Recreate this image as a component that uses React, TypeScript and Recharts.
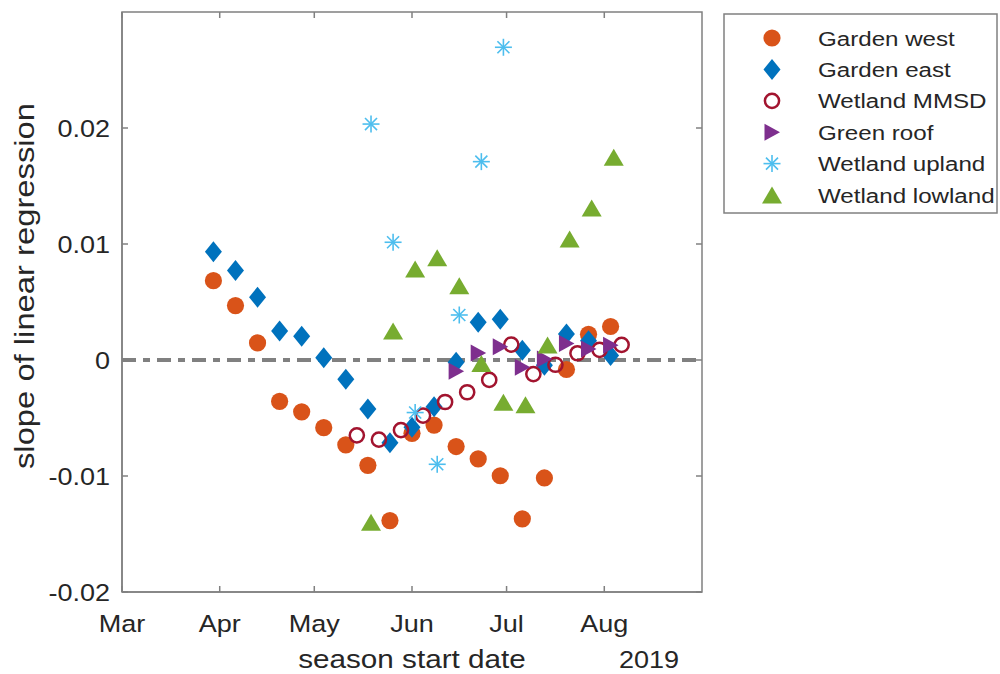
import { ScatterChart, Scatter, XAxis, YAxis, ReferenceLine, ReferenceArea, Label } from "recharts"

// x values are days since 1 Mar 2019
const monthTicks = [0, 31, 61, 92, 122, 153]
const monthLabels = ["Mar", "Apr", "May", "Jun", "Jul", "Aug"]
const slopeTicks = [-0.02, -0.01, 0, 0.01, 0.02]
const slopeLabels = ["-0.02", "-0.01", "0", "0.01", "0.02"]

const gardenDays = [29, 36, 43, 50, 57, 64, 71, 78, 85, 92, 99, 106, 113, 120, 127, 134, 141, 148, 155]
const gardenWest = [
  0.00684, 0.00469, 0.00147, -0.00356, -0.00447, -0.00583, -0.00731, -0.00908, -0.01384, -0.00632,
  -0.00561, -0.00746, -0.00853, -0.00998, -0.01369, -0.01017, -0.00082, 0.00222, 0.00289,
]
const gardenEast = [
  0.00934, 0.00771, 0.00541, 0.0025, 0.00204, 0.00019, -0.00166, -0.00422, -0.00714, -0.0058,
  -0.00403, -0.0002, 0.00325, 0.00351, 0.00084, -0.00046, 0.00224, 0.00167, 0.00038,
]

const mmsdDays = [74.5, 81.5, 88.5, 95.5, 102.5, 109.5, 116.5, 123.5, 130.5, 137.5, 144.5, 151.5, 158.5]
const wetlandMmsd = [
  -0.00649, -0.00686, -0.00604, -0.00479, -0.00362, -0.00278, -0.00172, 0.00133, -0.00121, -0.00041,
  0.00058, 0.00088, 0.00131,
]

const roofDays = [106, 113, 120, 127, 134, 141, 148, 155]
const greenRoof = [-0.00097, 0.0006, 0.00114, -0.00063, 0.00009, 0.00142, 0.00095, 0.00127]

const uplandDays = [79, 86, 93, 100, 107, 114, 121]
const wetlandUpland = [0.02034, 0.01015, -0.00453, -0.00899, 0.00388, 0.0171, 0.02696]

const lowlandDays = [79, 86, 93, 100, 107, 114, 121, 128, 135, 142, 149, 156]
const wetlandLowland = [
  -0.01399, 0.0025, 0.00784, 0.00881, 0.00641, -0.0003, -0.00365, -0.00386, 0.00129, 0.01043, 0.0131,
  0.01747,
]

type Kind = "circle" | "diamond" | "ring" | "right" | "star" | "up"

const series: { name: string; days: number[]; values: number[]; kind: Kind; color: string }[] = [
  { name: "Garden west", days: gardenDays, values: gardenWest, kind: "circle", color: "#D95319" },
  { name: "Garden east", days: gardenDays, values: gardenEast, kind: "diamond", color: "#0072BD" },
  { name: "Wetland MMSD", days: mmsdDays, values: wetlandMmsd, kind: "ring", color: "#A2142F" },
  { name: "Green roof", days: roofDays, values: greenRoof, kind: "right", color: "#7E2F8E" },
  { name: "Wetland upland", days: uplandDays, values: wetlandUpland, kind: "star", color: "#4DBEEE" },
  { name: "Wetland lowland", days: lowlandDays, values: wetlandLowland, kind: "up", color: "#77AC30" },
]

const FONT = '"Liberation Sans", Arial, Helvetica, sans-serif'
const INK = "#262626"
const BOX = "#808080"
const WIDE = 1.15
// plot frame inside the 1000x674 svg
const PLOT = { left: 122, top: 12, right: 702, bottom: 592 }

function Marker({ kind, cx, cy, color }: { kind: Kind; cx: number; cy: number; color: string }) {
  switch (kind) {
    case "circle":
      return <circle cx={cx} cy={cy} r={8.6} fill={color} />
    case "diamond":
      return (
        <polygon
          points={`${cx},${cy - 10.5} ${cx + 8.5},${cy} ${cx},${cy + 10.5} ${cx - 8.5},${cy}`}
          fill={color}
        />
      )
    case "ring":
      return <circle cx={cx} cy={cy} r={7.1} fill="none" stroke={color} strokeWidth={2.5} />
    case "right":
      return <polygon points={`${cx - 7.5},${cy - 8.5} ${cx + 8},${cy} ${cx - 7.5},${cy + 8.5}`} fill={color} />
    case "star": {
      const a = 8.5
      const d = a * 0.707
      return (
        <g stroke={color} strokeWidth={1.6}>
          <line x1={cx - a} y1={cy} x2={cx + a} y2={cy} />
          <line x1={cx} y1={cy - a} x2={cx} y2={cy + a} />
          <line x1={cx - d} y1={cy - d} x2={cx + d} y2={cy + d} />
          <line x1={cx - d} y1={cy + d} x2={cx + d} y2={cy - d} />
        </g>
      )
    }
    default:
      return <polygon points={`${cx},${cy - 8.5} ${cx + 10},${cy + 8.5} ${cx - 10},${cy + 8.5}`} fill={color} />
  }
}

// text stretched along its reading direction
function WideText({
  x,
  y,
  size,
  anchor = "start",
  rotate = false,
  children,
}: {
  x: number
  y: number
  size: number
  anchor?: "start" | "middle" | "end"
  rotate?: boolean
  children: string
}) {
  const t = `translate(${x},${y})${rotate ? " rotate(-90)" : ""} scale(${WIDE},1)`
  return (
    <text transform={t} x={0} y={0} textAnchor={anchor} fontFamily={FONT} fontSize={size} fill={INK}>
      {children}
    </text>
  )
}

function MonthTick({ x, y, payload }: any) {
  const label = monthLabels[monthTicks.indexOf(payload.value)]
  return (
    <g>
      <line x1={x} x2={x} y1={y} y2={y - 6} stroke={BOX} strokeWidth={1.5} />
      <line x1={x} x2={x} y1={PLOT.top} y2={PLOT.top + 6} stroke={BOX} strokeWidth={1.5} />
      <WideText x={x} y={y + 40} size={23.5} anchor="middle">
        {label}
      </WideText>
    </g>
  )
}

function SlopeTick({ x, y, payload }: any) {
  const label = slopeLabels[slopeTicks.indexOf(payload.value)]
  return (
    <g>
      <line x1={x} x2={x + 6} y1={y} y2={y} stroke={BOX} strokeWidth={1.5} />
      <line x1={PLOT.right} x2={PLOT.right - 6} y1={y} y2={y} stroke={BOX} strokeWidth={1.5} />
      <WideText x={x - 12} y={y + 8.5} size={23.5} anchor="end">
        {label}
      </WideText>
    </g>
  )
}

function DateCaption({ viewBox }: any) {
  const { x, y, width } = viewBox
  return (
    <g>
      <WideText x={x + width / 2} y={y + 76} size={25.8} anchor="middle">
        season start date
      </WideText>
      <WideText x={x + width - 23} y={y + 76} size={23.5} anchor="end">
        2019
      </WideText>
    </g>
  )
}

function SlopeCaption({ viewBox }: any) {
  const { y, height } = viewBox
  return (
    <WideText x={34} y={y + height / 2 - 16} size={28.5} anchor="middle" rotate>
      slope of linear regression
    </WideText>
  )
}

function LegendBox() {
  return (
    <svg width={275} height={201} style={{ position: "absolute", left: 723, top: 13 }}>
      <rect x={1} y={1} width={273} height={199} fill="#fff" stroke={BOX} strokeWidth={1.5} />
      {series.map((s, i) => {
        const cy = 25 + i * 31.4
        return (
          <g key={s.name}>
            <Marker kind={s.kind} cx={49} cy={cy} color={s.color} />
            <WideText x={95} y={cy + 7.5} size={21}>
              {s.name}
            </WideText>
          </g>
        )
      })}
    </svg>
  )
}

export default function App() {
  return (
    <div style={{ position: "absolute", left: 0, top: 0, width: 1000, height: 674, background: "#fff" }}>
      <ScatterChart
        width={1000}
        height={674}
        margin={{ top: PLOT.top, right: 1000 - PLOT.right, bottom: 0, left: 0 }}
      >
        <XAxis
          dataKey="day"
          type="number"
          domain={[0, 184]}
          ticks={monthTicks}
          interval={0}
          height={674 - PLOT.bottom}
          tickSize={0}
          tickMargin={0}
          tickLine={false}
          tick={<MonthTick />}
          axisLine={{ stroke: BOX, strokeWidth: 1.5 }}
          allowDataOverflow
        >
          <Label content={<DateCaption />} />
        </XAxis>
        <YAxis
          dataKey="slope"
          type="number"
          domain={[-0.02, 0.03]}
          ticks={slopeTicks}
          interval={0}
          width={PLOT.left}
          tickSize={0}
          tickMargin={0}
          tickLine={false}
          tick={<SlopeTick />}
          axisLine={{ stroke: BOX, strokeWidth: 1.5 }}
          allowDataOverflow
        >
          <Label content={<SlopeCaption />} />
        </YAxis>
        <ReferenceArea
          x1={0}
          x2={184}
          y1={-0.02}
          y2={0.03}
          fill="none"
          fillOpacity={0}
          stroke={BOX}
          strokeWidth={1.5}
        />
        {series.map((s) => (
          <Scatter
            key={s.name}
            name={s.name}
            data={s.days.map((day, i) => ({ day, slope: s.values[i] }))}
            isAnimationActive={false}
            shape={(p: any) => <Marker kind={s.kind} cx={p.cx} cy={p.cy} color={s.color} />}
          />
        ))}
        <ReferenceLine y={0} stroke={BOX} strokeWidth={4} strokeDasharray="14 7 7 7" />
      </ScatterChart>
      <LegendBox />
    </div>
  )
}
